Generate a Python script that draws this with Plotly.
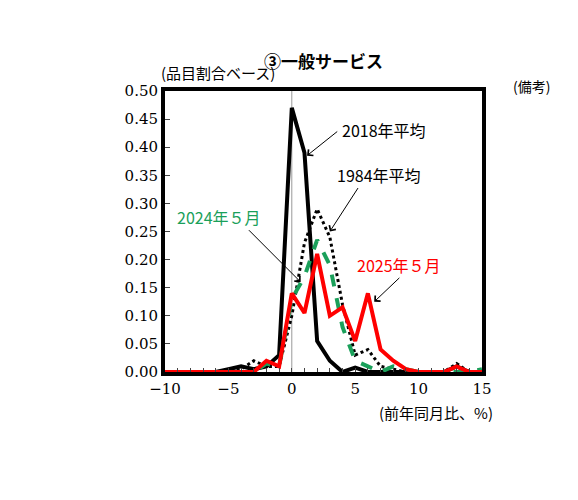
import plotly.graph_objects as go

x = list(range(-10, 16))
y2018 = [0, 0, 0, 0, 0, 0.005, 0.01, 0.005, 0.01, 0.03, 0.47, 0.39, 0.055, 0.02, 0.0, 0.008, 0.0, 0, 0, 0, 0, 0, 0, 0.01, 0, 0]
y1984 = [0, 0, 0, 0, 0, 0, 0.005, 0.02, 0.01, 0.01, 0.10, 0.23, 0.29, 0.24, 0.12, 0.03, 0.04, 0.01, 0.005, 0, 0, 0, 0, 0.015, 0, 0]
y2024 = [0, 0, 0, 0, 0, 0, 0, 0, 0.015, 0.01, 0.13, 0.17, 0.235, 0.19, 0.08, 0.02, 0.01, 0.0, 0.01, 0.005, 0, 0, 0, 0, 0, 0.005]
y2025 = [0, 0, 0, 0, 0, 0, 0, 0, 0.02, 0.01, 0.14, 0.105, 0.21, 0.10, 0.115, 0.055, 0.14, 0.04, 0.02, 0.005, 0, 0, 0, 0.01, 0, 0]

font = "Noto Sans CJK JP"
fig = go.Figure()
fig.add_trace(go.Scatter(x=x, y=y1984, mode="lines", line=dict(color="black", width=3, dash="dot")))
fig.add_trace(go.Scatter(x=x, y=y2018, mode="lines", line=dict(color="black", width=4)))
fig.add_trace(go.Scatter(x=x, y=y2024, mode="lines", line=dict(color="#1aa05a", width=4, dash="dash")))
fig.add_trace(go.Scatter(x=x, y=y2025, mode="lines", line=dict(color="#ff0000", width=4)))

fig.add_shape(type="line", x0=0, x1=0, y0=0, y1=0.5, line=dict(color="#999999", width=1), layer="below")

def note(tx, ty, ax, ay):
    fig.add_annotation(x=ax, y=ay, ax=tx, ay=ty, axref="x", ayref="y", text="", showarrow=True,
                       arrowhead=4, arrowsize=1.5, arrowwidth=1, arrowcolor="black")

note(3.7, 0.43, 1.2, 0.385)
note(5.3, 0.33, 3, 0.25)
note(-3.5, 0.255, 0.7, 0.16)
note(8.6, 0.17, 6.5, 0.125)
for t, c, tx, ty in [("2018年平均", "black", 3.8, 0.43), ("1984年平均", "black", 3.4, 0.35),
                     ("2024年５月", "#1aa05a", -9.2, 0.275), ("2025年５月", "#ff0000", 5, 0.19)]:
    fig.add_annotation(x=tx, y=ty, xanchor="left", text=t, showarrow=False, font=dict(color=c, size=16, family=font))

fig.add_annotation(xref="paper", yref="paper", x=0.5, y=1.16, text="<b>③一般サービス</b>", showarrow=False,
                   font=dict(size=17, family=font, color="black"))
fig.add_annotation(xref="paper", yref="paper", x=-0.02, y=1.02, xanchor="left", yanchor="bottom",
                   text="(品目割合ベース)", showarrow=False, font=dict(size=15, family=font, color="black"))
fig.add_annotation(xref="paper", yref="paper", x=1.22, y=1.06, xanchor="right", yanchor="top",
                   text="(備考)", showarrow=False, font=dict(size=14, family=font, color="black"))
fig.add_annotation(xref="paper", yref="paper", x=1.04, y=-0.1, xanchor="right", yanchor="top",
                   text="(前年同月比、%)", showarrow=False, font=dict(size=15, family=font, color="black"))

fig.update_layout(width=578, height=500, margin=dict(l=157, r=104, t=83, b=136), showlegend=False,
                  plot_bgcolor="white", paper_bgcolor="white",
                  font=dict(family="DejaVu Serif", size=15, color="black"))
fig.update_xaxes(range=[-10, 15], tickvals=[-10, -5, 0, 5, 10, 15], ticktext=["−10", "−5", "0", "5", "10", "15"],
                 showgrid=False, zeroline=False, showline=True, linewidth=4, linecolor="black", mirror=True,
                 ticks="inside", ticklen=4, minor=dict(dtick=1, ticks="inside", ticklen=4))
fig.update_yaxes(range=[0, 0.5], dtick=0.05, tickformat=".2f", showgrid=False, zeroline=False,
                 showline=True, linewidth=4, linecolor="black", mirror=True, ticks="inside", ticklen=5)
fig.write_html("out.html")
